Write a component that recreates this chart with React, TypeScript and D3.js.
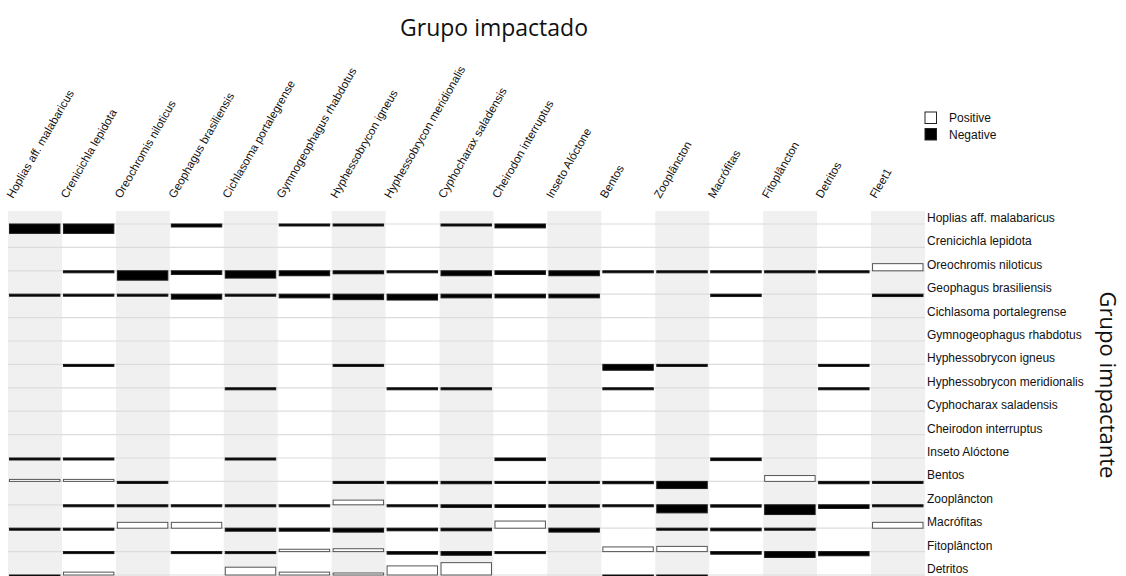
import React from "react";
import * as d3 from "d3";

const impacting = [
  "Hoplias aff. malabaricus",
  "Crenicichla lepidota",
  "Oreochromis niloticus",
  "Geophagus brasiliensis",
  "Cichlasoma portalegrense",
  "Gymnogeophagus rhabdotus",
  "Hyphessobrycon igneus",
  "Hyphessobrycon meridionalis",
  "Cyphocharax saladensis",
  "Cheirodon interruptus",
  "Inseto Alóctone",
  "Bentos",
  "Zooplâncton",
  "Macrófitas",
  "Fitoplâncton",
  "Detritos",
];
const impacted = [...impacting, "Fleet1"];

// One row per impacting group, one value per impacted group (mixed trophic impact)
const rowHoplias = [-0.72, -0.72, 0, -0.23, 0, -0.12, -0.15, 0, -0.15, -0.3, 0, 0, 0, 0, 0, 0, 0];
const rowCrenicichla = [0, 0, 0, 0, 0, 0, 0, 0, 0, 0, 0, 0, 0, 0, 0, 0, 0];
const rowOreochromis = [0, -0.13, -0.72, -0.28, -0.56, -0.38, -0.23, -0.1, -0.38, -0.28, -0.38, -0.15, -0.15, -0.15, -0.15, -0.15, 0.55];
const rowGeophagus = [-0.15, -0.15, -0.15, -0.38, -0.15, -0.28, -0.42, -0.45, -0.28, -0.28, -0.28, 0, 0, -0.18, 0, 0, -0.18];
const rowCichlasoma = [0, 0, 0, 0, 0, 0, 0, 0, 0, 0, 0, 0, 0, 0, 0, 0, 0];
const rowGymnogeophagus = [0, 0, 0, 0, 0, 0, 0, 0, 0, 0, 0, 0, 0, 0, 0, 0, 0];
const rowHIgneus = [0, -0.15, 0, 0, 0, 0, -0.15, 0, 0, 0, 0, -0.45, -0.15, 0, 0, -0.15, 0];
const rowHMeridionalis = [0, 0, 0, 0, -0.15, 0, 0, -0.15, -0.15, 0, 0, -0.15, 0, 0, 0, -0.15, 0];
const rowCyphocharax = [0, 0, 0, 0, 0, 0, 0, 0, 0, 0, 0, 0, 0, 0, 0, 0, 0];
const rowCheirodon = [0, 0, 0, 0, 0, 0, 0, 0, 0, 0, 0, 0, 0, 0, 0, 0, 0];
const rowInseto = [-0.15, -0.15, 0, 0, -0.15, 0, 0, 0, 0, -0.2, 0, 0, 0, -0.2, 0, 0, 0];
const rowBentos = [0.15, 0.15, -0.15, 0, 0, 0, -0.15, -0.18, -0.18, -0.15, -0.15, -0.18, -0.55, 0, 0.45, -0.18, -0.15];
const rowZooplancton = [0, -0.15, -0.15, -0.15, -0.15, -0.13, 0.36, -0.15, -0.2, -0.2, -0.18, -0.15, -0.62, -0.18, -0.75, -0.28, -0.15];
const rowMacrofitas = [-0.15, -0.15, 0.45, 0.45, -0.23, -0.23, -0.3, -0.2, -0.2, 0.55, -0.3, 0, -0.15, -0.2, -0.13, 0, 0.45];
const rowFitoplancton = [0, -0.15, 0, -0.15, -0.15, 0.18, 0.22, -0.2, -0.28, -0.15, 0, 0.36, 0.4, -0.2, -0.45, -0.32, 0];
const rowDetritos = [-0.3, 0.22, 0, 0, 0.6, 0.22, 0.15, 0.7, 0.95, 0, 0, -0.2, -0.15, 0, 0, 0, 0];

const rows = [
  rowHoplias, rowCrenicichla, rowOreochromis, rowGeophagus, rowCichlasoma,
  rowGymnogeophagus, rowHIgneus, rowHMeridionalis, rowCyphocharax, rowCheirodon,
  rowInseto, rowBentos, rowZooplancton, rowMacrofitas, rowFitoplancton, rowDetritos,
];

const legendItems = ["Positive", "Negative"];

export default function App() {
  const W = 1126;
  const H = 576;
  const x = d3.scaleBand<string>().domain(impacted).range([8, 925]).paddingInner(0).paddingOuter(0);
  const y = d3.scalePoint<string>().domain(impacting).range([224, 575]);
  const h = d3.scaleLinear().domain([0, 1]).range([0, 13]);
  const bw = x.bandwidth();
  const top = 211;

  const cells: { r: string; c: string; v: number }[] = [];
  rows.forEach((row, i) => row.forEach((v, j) => { if (v !== 0) cells.push({ r: impacting[i], c: impacted[j], v }); }));

  return (
    <svg width={W} height={H} style={{ position: "absolute", left: 0, top: 0, background: "#fff" }}>
      {/* column shading */}
      {impacted.map((c, j) =>
        j % 2 === 0 ? (
          <rect key={"bg" + c} x={x(c)} y={top} width={bw} height={H - top} fill="#f0f0f0" />
        ) : null
      )}
      {/* row lines */}
      {impacting.map((r) => (
        <line key={"ln" + r} x1={8} x2={925} y1={y(r)} y2={y(r)} stroke="#dcdcdc" strokeWidth={1.2} />
      ))}
      {/* bars */}
      {cells.map((d, k) => {
        const bh = Math.max(h(Math.abs(d.v)), 2);
        const base = y(d.r)!;
        const pos = d.v > 0;
        return (
          <rect
            key={"b" + k}
            x={x(d.c)! + 1.5}
            y={pos ? base - bh : base}
            width={bw - 3.5}
            height={bh}
            fill={pos ? "#fff" : "#000"}
            stroke={pos ? "#555" : "#1a1a1a"}
            strokeWidth={1}
          />
        );
      })}
      {/* row labels */}
      {impacting.map((r) => (
        <text key={"rl" + r} x={927} y={y(r)! - 2} fontFamily="Liberation Sans, Arial, sans-serif" fontSize={12} fill="#111">
          {r}
        </text>
      ))}
      {/* column labels */}
      {impacted.map((c) => {
        const ox = x(c)! + 5;
        const oy = 199;
        return (
          <text key={"cl" + c} x={0} y={0} transform={`translate(${ox},${oy}) rotate(-60)`} fontFamily="Liberation Sans, Arial, sans-serif" fontSize={11.5} fill="#111">
            {c}
          </text>
        );
      })}
      {/* legend */}
      {legendItems.map((l, i) => (
        <g key={"lg" + l} transform={`translate(925,${112 + i * 16.5})`}>
          <rect x={0} y={0} width={11.5} height={11.5} fill={i === 0 ? "#fff" : "#000"} stroke="#222" strokeWidth={1} />
          <text x={24} y={10} fontFamily="Liberation Sans, Arial, sans-serif" fontSize={12} fill="#111">{l}</text>
        </g>
      ))}
      {/* titles */}
      <text x={494} y={36} textAnchor="middle" fontFamily="Open Sans, sans-serif" fontSize={23} fill="#111">
        Grupo impactado
      </text>
      <text transform="translate(1100,385) rotate(90)" textAnchor="middle" fontFamily="Open Sans, sans-serif" fontSize={22} fill="#111">
        Grupo impactante
      </text>
    </svg>
  );
}
